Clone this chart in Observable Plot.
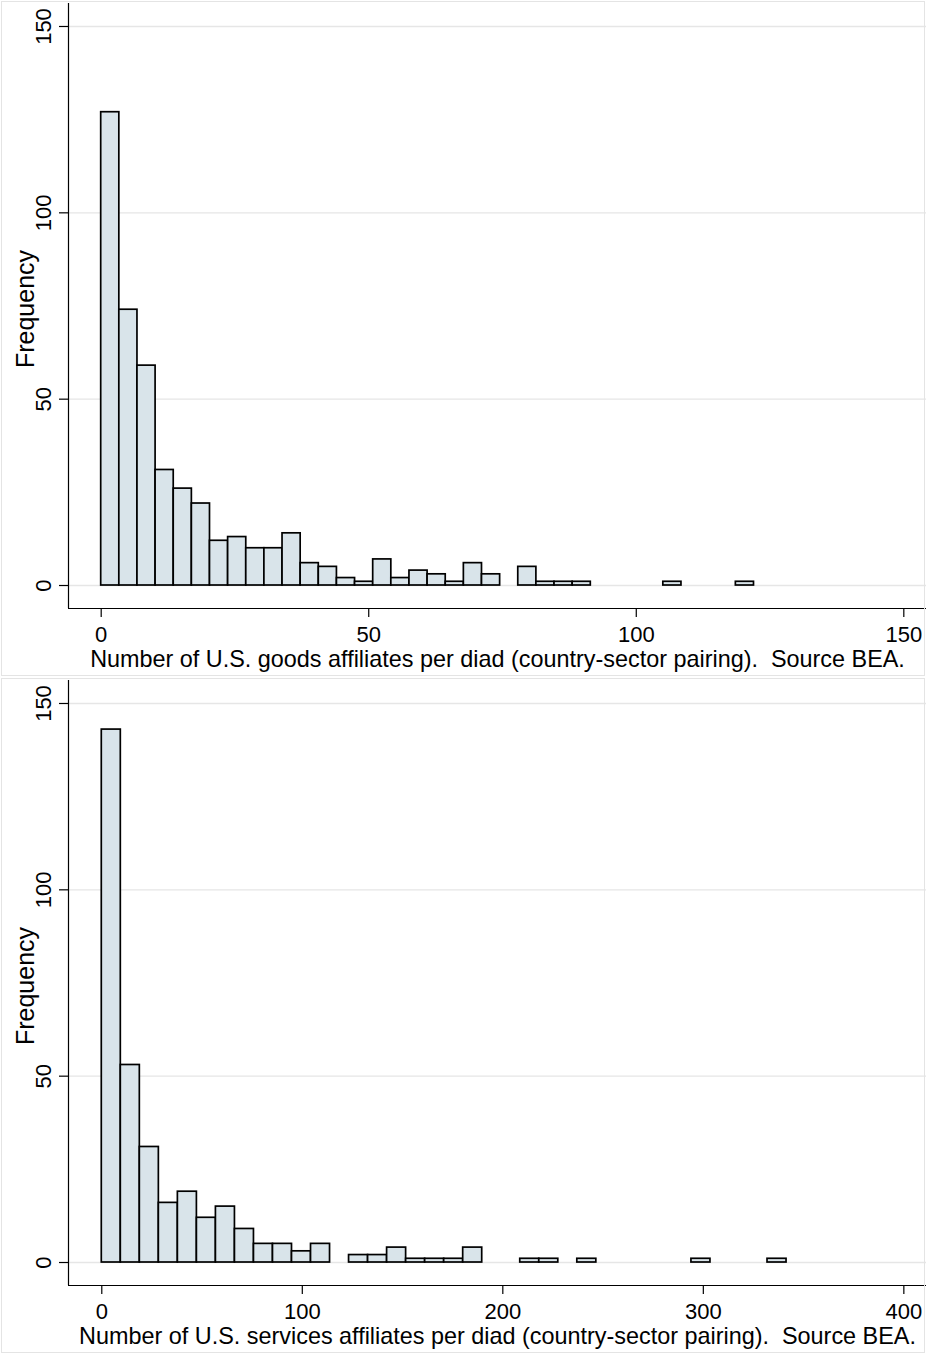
<!DOCTYPE html>
<html>
<head>
<meta charset="utf-8">
<script src="https://cdn.jsdelivr.net/npm/d3@7"></script>
<script src="https://cdn.jsdelivr.net/npm/@observablehq/plot@0.6"></script>
<style>
  html, body { margin: 0; padding: 0; background: #fff; }
  #chart svg { display: block; outline: 1px solid #e4e4e4; outline-offset: -2px; }
  #chart svg text { white-space: pre; }
</style>
</head>
<body>
<div id="chart"></div>
<script>
// ---- Data ----
// Histogram 1: goods affiliates per diad, 36 bins of equal width starting at 0
const goodsBinWidth = 122 / 36;
const goodsCounts = [127, 74, 59, 31, 26, 22, 12, 13, 10, 10, 14, 6, 5, 2, 1, 7, 2, 4, 3, 1, 6, 3, 0, 5, 1, 1, 1, 0, 0, 0, 0, 1, 0, 0, 0, 1];
const goodsXTicks = [0, 50, 100, 150];
const goodsTitle = "Number of U.S. goods affiliates per diad (country-sector pairing).  Source BEA.";

// Histogram 2: services affiliates per diad, 36 bins of equal width starting at 0
const servicesBinWidth = 341.5 / 36;
const servicesCounts = [143, 53, 31, 16, 19, 12, 15, 9, 5, 5, 3, 5, 0, 2, 2, 4, 1, 1, 1, 4, 0, 0, 1, 1, 0, 1, 0, 0, 0, 0, 0, 1, 0, 0, 0, 1];
const servicesXTicks = [0, 100, 200, 300, 400];
const servicesTitle = "Number of U.S. services affiliates per diad (country-sector pairing).  Source BEA.";

const yTicks = [0, 50, 100, 150];
const yLabel = "Frequency";

// ---- Drawing ----
const FONT = "'Liberation Sans', Arial, Helvetica, sans-serif";
const W = 926, H = 677;
const mL = 68, mR = 0, mT = 3, mB = 69;

function histogram(counts, binWidth, xTicks, title, xDomain) {
  const bins = counts.map((c, i) => ({x1: i * binWidth, x2: (i + 1) * binWidth, count: c}))
                     .filter(d => d.count > 0);
  const yDomain = [-6.17, 156.17];
  return Plot.plot({
    width: W, height: H,
    marginLeft: mL, marginRight: mR, marginTop: mT, marginBottom: mB,
    style: {fontFamily: FONT, fontSize: "22px", color: "black", background: "white", overflow: "visible"},
    x: {domain: xDomain},
    y: {domain: yDomain},
    marks: [
      Plot.gridY(yTicks, {stroke: "#e6e6e6", strokeOpacity: 1, strokeWidth: 1.4}),
      Plot.rectY(bins, {x1: "x1", x2: "x2", y1: 0, y2: "count", fill: "#d9e4ea", stroke: "black", strokeWidth: 1.7}),
      Plot.ruleX([xDomain[0]], {stroke: "black", strokeWidth: 1.2}),
      Plot.ruleY([yDomain[0]], {stroke: "black", strokeWidth: 1.2}),
      Plot.axisY(yTicks, {tickSize: 9, tickFormat: () => "", label: null, strokeWidth: 1.2}),
      Plot.text(yTicks, {y: d => d, text: d => String(d), frameAnchor: "left", dx: -18,
                         rotate: -90, textAnchor: "middle", lineAnchor: "bottom", fontSize: 22}),
      Plot.axisX(xTicks, {tickSize: 9, tickPadding: 9, fontSize: 22, label: null, strokeWidth: 1.2}),
      Plot.text([yLabel], {frameAnchor: "left", dx: -35, dy: 3, rotate: -90, textAnchor: "middle",
                           lineAnchor: "bottom", fontSize: 25}),
      Plot.text([title], {frameAnchor: "bottom", dy: 58, textAnchor: "middle", lineAnchor: "bottom", fontSize: 23.4})
    ]
  });
}

const chart = document.getElementById("chart");
chart.appendChild(histogram(goodsCounts, goodsBinWidth, goodsXTicks, goodsTitle, [-6.11, 154.24]));
chart.appendChild(histogram(servicesCounts, servicesBinWidth, servicesXTicks, servicesTitle, [-16.6, 411.3]));
</script>
</body>
</html>
